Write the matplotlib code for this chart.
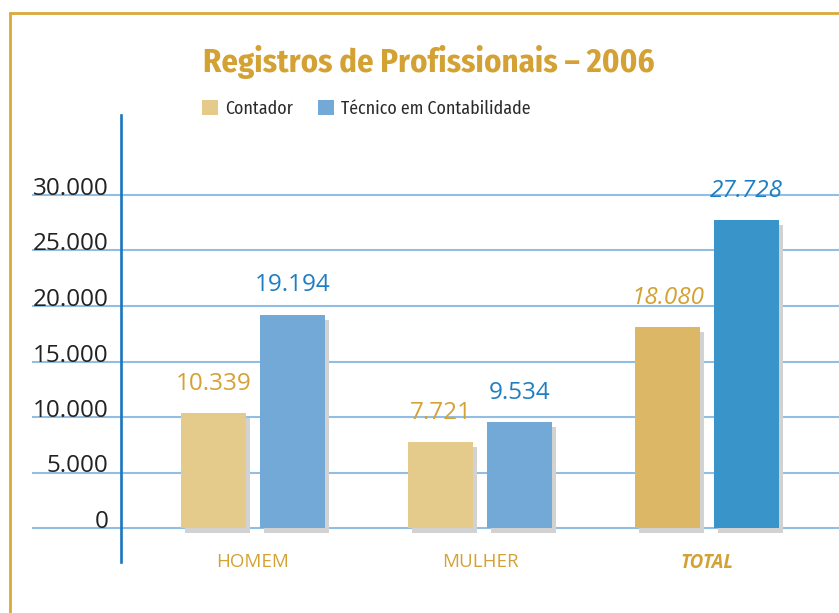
import matplotlib
matplotlib.use("Agg")
import matplotlib.pyplot as plt
import matplotlib.patheffects as pe
from matplotlib.patches import Rectangle, Patch
import numpy as np

categories = ["HOMEM", "MULHER", "TOTAL"]
series_names = ["Contador", "Técnico em Contabilidade"]
contador = [10339, 7721, 18080]
tecnico = [19194, 9534, 27728]
value_labels_contador = ["10.339", "7.721", "18.080"]
value_labels_tecnico = ["19.194", "9.534", "27.728"]
yticks = [0, 5000, 10000, 15000, 20000, 25000, 30000]
ytick_labels = ["0", "5.000", "10.000", "15.000", "20.000", "25.000", "30.000"]
title = "Registros de Profissionais – 2006"

W, H = 839, 613
fig = plt.figure(figsize=(W / 100, H / 100), dpi=100)

GOLD = "#D4A234"
BLUE_TXT = "#1E7EC2"
C_LIGHT = "#E4CA8B"
T_LIGHT = "#73A9D6"
C_DARK = "#DCB866"
T_DARK = "#3894C9"
GRID = "#93BEE4"
AXIS = "#1976BF"
SHADOW = "#D2D2D2"
COND = ["Fira Sans Condensed", "PT Sans Narrow", "DejaVu Sans"]
ffam = ["Open Sans", "DejaVu Sans"]

# frame border
fig.add_artist(Rectangle((10.3 / W, -0.1), 1.2, 1.1 - 13.4 / H,
                         transform=fig.transFigure, fill=False,
                         edgecolor="#DBA937", lw=2.0))

# axes placement (pixels)
ax_left, ax_right, ax_top, ax_bottom = 32, 839, 115, 562
ax = fig.add_axes([ax_left / W, 1 - ax_bottom / H,
                   (ax_right - ax_left) / W, (ax_bottom - ax_top) / H])
ax.set_facecolor("none")

px_per_unit_y = (528 - 195) / 30000
ax.set_ylim(-(ax_bottom - 528) / px_per_unit_y, 30000 + (195 - ax_top) / px_per_unit_y)
grp = 227.0
ax.set_xlim(-(253 - ax_left) / grp, (ax_right - 253) / grp)

x = np.arange(len(categories))
bw = 65 / grp
off = (65 + 14) / 2 / grp

shadow = [pe.SimplePatchShadow(offset=(2.9, -3.6), shadow_rgbFace=SHADOW, alpha=1.0), pe.Normal()]

c_colors = [C_LIGHT, C_LIGHT, C_DARK]
t_colors = [T_LIGHT, T_LIGHT, T_DARK]
bars_c = ax.bar(x - off, contador, width=bw, color=c_colors, zorder=3)
bars_t = ax.bar(x + off, tecnico, width=bw, color=t_colors, zorder=3)
for b in list(bars_c) + list(bars_t):
    b.set_path_effects(shadow)

for i, (b, lab) in enumerate(zip(bars_c, value_labels_contador)):
    ax.annotate(lab, (b.get_x() + b.get_width() / 2, b.get_height()),
                xytext=(0, 17), textcoords="offset points", ha="center", va="baseline",
                color=GOLD, fontsize=17.5, family=ffam,
                style="italic" if i == 2 else "normal", zorder=4)
for i, (b, lab) in enumerate(zip(bars_t, value_labels_tecnico)):
    ax.annotate(lab, (b.get_x() + b.get_width() / 2, b.get_height()),
                xytext=(0, 17), textcoords="offset points", ha="center", va="baseline",
                color=BLUE_TXT, fontsize=17.5, family=ffam,
                style="italic" if i == 2 else "normal", zorder=4)

# axes styling
for s in ["top", "right", "bottom"]:
    ax.spines[s].set_visible(False)
ax.spines["left"].set_position(("data", (121 - 253) / grp))
ax.spines["left"].set_color(AXIS)
ax.spines["left"].set_linewidth(1.9)

ax.set_yticks(yticks)
ax.set_yticklabels(ytick_labels, family=ffam, fontsize=17.5, color="#222222", va="baseline")
ax.tick_params(axis="y", length=0, pad=9)
ax.yaxis.grid(True, color=GRID, lw=1.5)
ax.set_axisbelow(True)

ax.set_xticks(x)
ax.set_xticklabels(categories, family=ffam, fontsize=13.5, color=GOLD)
ax.tick_params(axis="x", length=0, pad=-6.5)
xl = ax.get_xticklabels()
xl[2].set_fontweight("bold")
xl[2].set_fontstyle("italic")

# title
fig.text(428.5 / W, 1 - 72 / H, title, ha="center", va="baseline",
         family=COND, fontweight="bold", fontsize=23.5, color=GOLD)

# legend
handles = [Patch(facecolor=C_LIGHT, edgecolor="none"), Patch(facecolor=T_LIGHT, edgecolor="none")]
leg = fig.legend(handles, series_names, loc="upper left", bbox_to_anchor=(193 / W, 1 - 91 / H),
                 ncol=2, frameon=False, borderpad=0, handlelength=0.9, handleheight=0.9,
                 handletextpad=0.4, columnspacing=1.4,
                 prop={"family": COND, "size": 12.8})
for t in leg.get_texts():
    t.set_color("#2a2a2a")

fig.savefig("out.png", dpi=100)
